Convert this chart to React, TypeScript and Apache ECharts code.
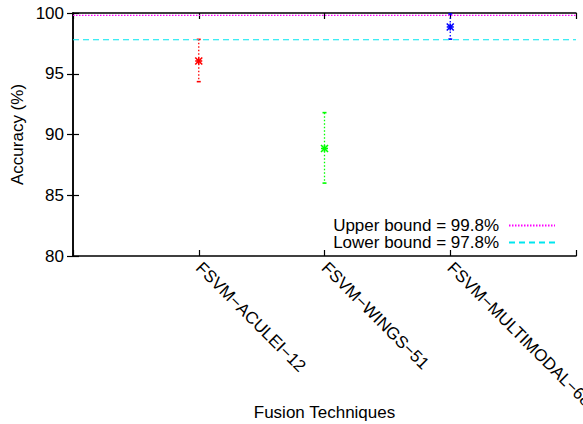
import React, { useEffect, useRef } from "react";
import * as echarts from "echarts";

const categories = ["FSVM−ACULEI−12", "FSVM−WINGS−51", "FSVM−MULTIMODAL−68"];
const means = [96.05, 88.85, 98.85];
const lows = [94.35, 86.0, 97.85];
const highs = [97.83, 91.8, 99.92];
const colors = ["#ff0000", "#00ff00", "#0000ff"];
const upperBound = 99.8;
const lowerBound = 97.8;
const upperName = "Upper bound = 99.8%";
const lowerName = "Lower bound = 97.8%";
const yTicks = [80, 85, 90, 95, 100];

const FONT = "Liberation Sans, Arial, Helvetica, sans-serif";
const FS = 17;

export default function App() {
  const ref = useRef<HTMLDivElement>(null);
  useEffect(() => {
    if (!ref.current) return;
    const chart = echarts.init(ref.current, undefined, { renderer: "svg" });
    const errData = categories.map((_, i) => [i + 1, means[i], lows[i], highs[i], i]);
    const xMax = categories.length + 1;
    const axisLine = { show: true, lineStyle: { color: "#000", width: 1.5 } };
    const tick = { show: true, inside: true, length: 6, lineStyle: { color: "#000", width: 1.2 } };
    chart.setOption({
      animation: false,
      grid: { left: 73, right: 7, top: 13, bottom: 168, show: false, outerBoundsMode: "none", containLabel: false },
      legend: {
        data: [upperName, lowerName],
        orient: "vertical",
        right: 22,
        top: 212,
        align: "right",
        itemWidth: 46,
        itemHeight: 12,
        itemGap: 0,
        itemStyle: { opacity: 0 },
        textStyle: { fontFamily: FONT, fontSize: FS, color: "#000", padding: [0, 5, 0, 0], lineHeight: 17 },
      },
      xAxis: [
        {
          type: "value",
          min: 0,
          max: xMax,
          interval: 1,
          position: "bottom",
          name: "Fusion Techniques",
          nameLocation: "middle",
          nameGap: 148,
          nameMoveOverlap: false,
          nameTextStyle: { fontFamily: FONT, fontSize: FS, color: "#000" },
          axisLine,
          axisTick: tick,
          splitLine: { show: false },
          axisLabel: {
            rotate: -45,
            margin: 9,
            fontFamily: FONT,
            fontSize: FS,
            color: "#000",
            formatter: (v: number) => categories[v - 1] ?? "",
          },
        },
        {
          type: "value",
          min: 0,
          max: xMax,
          interval: 1,
          position: "top",
          axisLine,
          axisTick: tick,
          splitLine: { show: false },
          axisLabel: { show: false },
        },
      ],
      yAxis: [
        {
          type: "value",
          min: yTicks[0],
          max: yTicks[yTicks.length - 1],
          interval: 5,
          position: "left",
          name: "Accuracy (%)",
          nameLocation: "middle",
          nameGap: 47,
          nameMoveOverlap: false,
          nameTextStyle: { fontFamily: FONT, fontSize: FS, color: "#000" },
          axisLine,
          axisTick: tick,
          splitLine: { show: false },
          axisLabel: { margin: 9, fontFamily: FONT, fontSize: FS, color: "#000" },
        },
        {
          type: "value",
          min: yTicks[0],
          max: yTicks[yTicks.length - 1],
          interval: 5,
          position: "right",
          axisLine,
          axisTick: tick,
          splitLine: { show: false },
          axisLabel: { show: false },
        },
      ],
      series: [
        {
          type: "line",
          name: upperName,
          data: [[0, upperBound], [xMax, upperBound]],
          symbol: "none",
          lineStyle: { color: "#ff00ff", type: [1.5, 1.5], width: 1.2 },
          itemStyle: { color: "#ff00ff" },
        },
        {
          type: "line",
          name: lowerName,
          data: [[0, lowerBound], [xMax, lowerBound]],
          symbol: "none",
          lineStyle: { color: "#00e5ee", type: [6, 4], width: 1.2 },
          itemStyle: { color: "#00e5ee" },
        },
        {
          type: "custom",
          name: "errors",
          data: errData,
          encode: { x: 0, y: [1, 2, 3] },
          renderItem: (params: any, api: any) => {
            const x = api.value(0);
            const m = api.coord([x, api.value(1)]);
            const lo = api.coord([x, api.value(2)]);
            const hi = api.coord([x, api.value(3)]);
            const c = colors[api.value(4)];
            const cap = 2;
            const s = 3.5;
            const ls = { stroke: c, lineWidth: 1.3, lineDash: [1.5, 2] };
            const ms = { stroke: c, lineWidth: 1.6 };
            return {
              type: "group",
              children: [
                { type: "line", shape: { x1: m[0], y1: hi[1], x2: m[0], y2: lo[1] }, style: ls },
                { type: "line", shape: { x1: m[0] - cap, y1: hi[1], x2: m[0] + cap, y2: hi[1] }, style: ms },
                { type: "line", shape: { x1: m[0] - cap, y1: lo[1], x2: m[0] + cap, y2: lo[1] }, style: ms },
                { type: "line", shape: { x1: m[0] - s, y1: m[1], x2: m[0] + s, y2: m[1] }, style: ms },
                { type: "line", shape: { x1: m[0], y1: m[1] - s, x2: m[0], y2: m[1] + s }, style: ms },
                { type: "line", shape: { x1: m[0] - s, y1: m[1] - s, x2: m[0] + s, y2: m[1] + s }, style: ms },
                { type: "line", shape: { x1: m[0] - s, y1: m[1] + s, x2: m[0] + s, y2: m[1] - s }, style: ms },
              ],
            };
          },
        },
      ],
    });
    return () => chart.dispose();
  }, []);
  return (
    <div
      ref={ref}
      style={{ position: "absolute", left: 0, top: 0, width: 583, height: 424, background: "#fff" }}
    />
  );
}
